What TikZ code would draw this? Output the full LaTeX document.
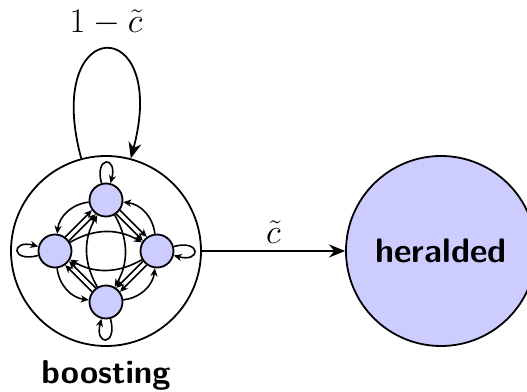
\documentclass[tikz,border=0pt]{standalone}
\usepackage{fontspec}
\usepackage{amsmath}
\usepackage{tikz}
\usetikzlibrary{arrows.meta}

\begin{document}
\begin{tikzpicture}[node distance=25.5pt, line width=0.9pt,
    big/.style={circle, draw, minimum size=95pt, inner sep=0pt,
                font=\fontsize{17}{20}\selectfont\sffamily\bfseries},
    state/.style={circle, draw, fill=blue!20, minimum size=16.5pt, inner sep=0pt},
    flow/.style={-{Stealth[length=4pt,width=3.6pt]}, line width=0.8pt},
    jump/.style={-{Stealth[length=8pt,width=6.5pt]}},
    lbl/.style={font=\LARGE}]
    \useasboundingbox (0,0) rectangle (263.5pt,196pt);
    \node[big] (boost) at (53pt,70.5pt) {};
    \node[big, fill=blue!20] (her) [right of=boost, node distance=167.5pt] {heralded};
    \node[font=\fontsize{16.5}{20}\selectfont\sffamily\bfseries] (name) [below of=boost, node distance=62pt] {boosting};
    \node[state] (t) [above of=boost] {};
    \node[state] (l) [left of=boost] {};
    \node[state] (r) [right of=boost] {};
    \node[state] (b) [below of=boost] {};
    \draw[jump] (boost) -- node[lbl, above] {$\tilde{c}$} (her);
    \draw[jump] (boost) to[loop above, looseness=7.8] node[lbl, above=3pt] {$1-\tilde{c}$} (boost);
    % self loops
    \draw[flow] (t) to[loop above] (t);
    \draw[flow] (l) to[loop left] (l);
    \draw[flow] (r) to[loop right] (r);
    \draw[flow] (b) to[loop below] (b);
    % outer arcs
    \draw[flow] (t) to[bend right=38] (l);
    \draw[flow] (l) to[bend right=38] (b);
    \draw[flow] (b) to[bend right=38] (r);
    \draw[flow] (r) to[bend right=38] (t);
    % double straight lines
    \draw[flow] (l.36) -- (t.-126);  \draw[flow] (l.54) -- (t.-144);
    \draw[flow] (t.-36) -- (r.126);  \draw[flow] (t.-54) -- (r.144);
    \draw[flow] (r.-126) -- (b.36);  \draw[flow] (r.-144) -- (b.54);
    \draw[flow] (b.126) -- (l.-36);  \draw[flow] (b.144) -- (l.-54);
    % long arcs
    \draw[flow] (l) to[bend left=30] (r);
    \draw[flow] (r) to[bend left=30] (l);
    \draw[flow] (t) to[bend left=30] (b);
    \draw[flow] (b) to[bend left=30] (t);
\end{tikzpicture}
\end{document}
